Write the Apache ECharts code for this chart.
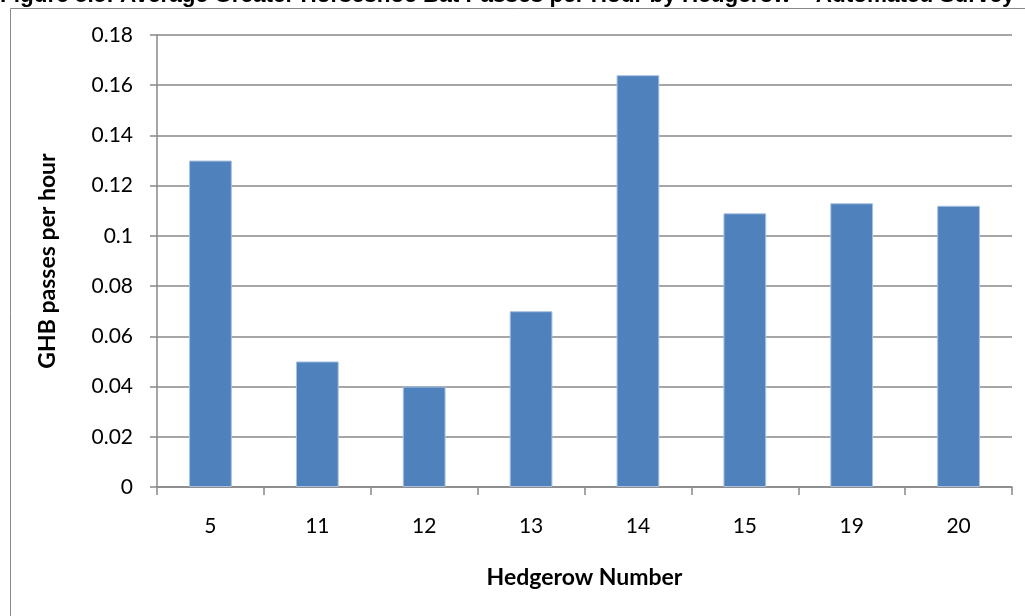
<!DOCTYPE html>
<html>
<head>
<meta charset="utf-8">
<script src="https://cdn.jsdelivr.net/npm/echarts@6/dist/echarts.min.js"></script>
<style>
  html, body { margin: 0; padding: 0; background: #fff; }
  #chart { width: 1025px; height: 616px; }
</style>
</head>
<body>
<div id="chart"></div>
<script>
// Hedgerow survey results: average GHB passes per hour
const hedgerows = ['5', '11', '12', '13', '14', '15', '19', '20'];
const passesPerHour = [0.13, 0.05, 0.04, 0.07, 0.164, 0.109, 0.113, 0.112];
const yTicks = [0, 0.02, 0.04, 0.06, 0.08, 0.1, 0.12, 0.14, 0.16, 0.18];

const titleText = 'Figure 5.5: Average Greater Horseshoe Bat Passes per Hour by Hedgerow \u2013 Automated Survey';

const chart = echarts.init(document.getElementById('chart'), null, { renderer: 'canvas' });

const labelFont = 'Lato, "Open Sans", sans-serif';
const gridGray = '#888888';

chart.setOption({
  animation: false,
  backgroundColor: '#ffffff',
  graphic: [
    {
      type: 'rect',
      shape: { x: 10.5, y: 8.5, width: 1200, height: 800 },
      style: { fill: 'none', stroke: '#8a8a8a', lineWidth: 1 },
      silent: true,
      z: -1
    },
    {
      type: 'text',
      x: 0,
      y: 7,
      style: {
        text: titleText,
        font: 'bold 22.5px "Liberation Sans", Arial, sans-serif',
        fill: '#000',
        textVerticalAlign: 'bottom'
      },
      silent: true
    }
  ],
  grid: { left: 157, right: 13, top: 35, bottom: 129, containLabel: false },
  xAxis: {
    type: 'category',
    data: hedgerows,
    name: 'Hedgerow Number',
    nameLocation: 'middle',
    nameGap: 79,
    nameTextStyle: { fontFamily: labelFont, fontWeight: 'bold', fontSize: 23, color: '#000' },
    axisLine: { lineStyle: { color: gridGray, width: 1.5 } },
    axisTick: { show: true, length: 8, lineStyle: { color: gridGray, width: 1.5 } },
    axisLabel: { fontFamily: labelFont, fontSize: 21, color: '#000', margin: 29 },
    splitLine: { show: false }
  },
  yAxis: {
    type: 'value',
    min: 0,
    max: 0.18,
    interval: 0.02,
    name: 'GHB passes per hour',
    nameLocation: 'middle',
    nameGap: 98,
    nameTextStyle: { fontFamily: labelFont, fontWeight: 'bold', fontSize: 23, color: '#000' },
    axisLine: { show: true, lineStyle: { color: gridGray, width: 1.5 } },
    axisTick: { show: true, inside: false, length: 7, lineStyle: { color: gridGray, width: 1.5 } },
    axisLabel: {
      fontFamily: labelFont,
      fontSize: 21,
      color: '#000',
      margin: 24,
      formatter: function (v) {
        const hit = yTicks.find(t => Math.abs(t - v) < 1e-9);
        return hit === undefined ? '' : String(hit);
      }
    },
    splitLine: { show: true, lineStyle: { color: gridGray, width: 1.5 } }
  },
  series: [
    {
      type: 'bar',
      data: passesPerHour,
      barWidth: '40%',
      itemStyle: { color: '#4F81BD', borderColor: '#A9C1E0', borderWidth: 1 },
      emphasis: { disabled: true }
    }
  ]
});
</script>
</body>
</html>
